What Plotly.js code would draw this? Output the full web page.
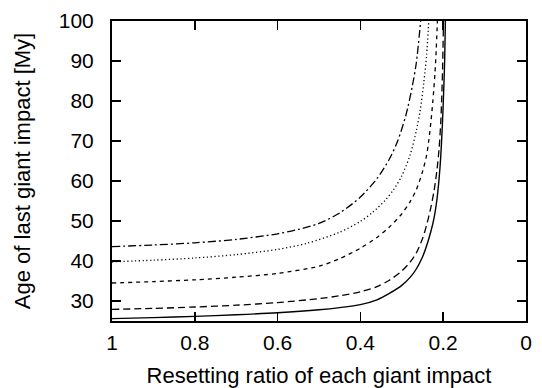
<!DOCTYPE html>
<html>
<head>
<meta charset="utf-8">
<script src="https://cdn.plot.ly/plotly-3.0.1.min.js"></script>
<style>html,body{margin:0;padding:0;background:#fff;}#chart{width:542px;height:388px;}</style>
</head>
<body>
<div id="chart"></div>
<script>
// Resetting ratio (x) and age of last giant impact [My] (y) for five curves
const solidX     = [1.0, 0.9, 0.8, 0.7, 0.6, 0.5, 0.45, 0.4, 0.36, 0.33, 0.3, 0.28, 0.265, 0.25, 0.24, 0.23, 0.222, 0.215, 0.21, 0.206, 0.202, 0.199, 0.1965, 0.1947];
const solidY     = [25.6, 25.85, 26.15, 26.55, 27.05, 27.8, 28.35, 29.1, 30.3, 31.9, 33.9, 35.9, 38.0, 41.0, 43.8, 47.3, 50.8, 55.5, 60.5, 66.0, 74.0, 82.0, 90.0, 100];

const longDashX  = [1.0, 0.9, 0.8, 0.7, 0.6, 0.5, 0.45, 0.4, 0.36, 0.33, 0.3, 0.28, 0.265, 0.25, 0.24, 0.23, 0.222, 0.215, 0.21, 0.206, 0.2035, 0.2015, 0.1993];
const longDashY  = [27.9, 28.15, 28.5, 28.95, 29.6, 30.6, 31.3, 32.3, 33.6, 35.2, 37.5, 39.7, 42.0, 45.6, 49.0, 53.3, 57.6, 62.8, 68.0, 74.5, 81.0, 88.0, 100];

const shortDashX = [1.0, 0.9, 0.8, 0.7, 0.6, 0.5, 0.45, 0.4, 0.36, 0.33, 0.3, 0.28, 0.265, 0.25, 0.24, 0.235, 0.23, 0.225, 0.22, 0.217, 0.214];
const shortDashY = [34.5, 34.85, 35.3, 35.95, 36.9, 38.7, 40.6, 43.2, 45.9, 48.5, 51.8, 54.8, 57.8, 62.3, 66.5, 70.0, 74.5, 80.0, 86.8, 92.5, 100];

const dottedX    = [1.0, 0.9, 0.8, 0.7, 0.6, 0.53, 0.45, 0.4, 0.37, 0.34, 0.32, 0.3, 0.28, 0.265, 0.255, 0.247, 0.24, 0.235];
const dottedY    = [39.8, 40.2, 40.75, 41.6, 42.9, 44.4, 47.2, 49.9, 52.2, 55.2, 57.8, 61.3, 66.5, 72.5, 78.0, 84.5, 91.5, 100];

const dashDotX   = [1.0, 0.9, 0.8, 0.7, 0.6, 0.55, 0.5, 0.45, 0.4, 0.36, 0.33, 0.31, 0.29, 0.275, 0.265, 0.2545];
const dashDotY   = [43.6, 44.0, 44.55, 45.4, 46.8, 47.9, 49.4, 52.0, 56.0, 60.6, 65.5, 70.0, 76.5, 83.5, 89.5, 100];

const xTicks = [1, 0.8, 0.6, 0.4, 0.2, 0];
const xTickLabels = ['1', '0.8', '0.6', '0.4', '0.2', '0'];
const yTicks = [30, 40, 50, 60, 70, 80, 90, 100];

function curve(x, y, dash, w) {
  return {x: x, y: y, type: 'scatter', mode: 'lines',
          line: {color: '#000', width: w, dash: dash, shape: 'spline', smoothing: 0.8},
          hoverinfo: 'skip', showlegend: false, cliponaxis: true};
}

const data = [
  curve(solidX, solidY, 'solid', 1.4),
  curve(longDashX, longDashY, '7px,4px', 1.3),
  curve(shortDashX, shortDashY, '4px,4px', 1.3),
  curve(dottedX, dottedY, '1.2px,2.6px', 1.3),
  curve(dashDotX, dashDotY, '8px,3px,2px,3px', 1.3)
];

const tickFont = {family: 'Liberation Sans, Arial, sans-serif', size: 21, color: '#000'};
const titleFont = {family: 'Liberation Sans, Arial, sans-serif', size: 22, color: '#000'};

const layout = {
  width: 542, height: 388,
  margin: {l: 112, r: 16, t: 21, b: 67, pad: 0},
  paper_bgcolor: '#fff', plot_bgcolor: '#fff',
  showlegend: false,
  xaxis: {
    range: [1, 0], tickvals: xTicks, ticktext: xTickLabels,
    ticks: 'inside', ticklen: 9, tickwidth: 1.5, tickcolor: '#000',
    showline: true, linecolor: '#000', linewidth: 2, mirror: 'ticks',
    showgrid: false, zeroline: false, tickfont: tickFont,
    ticklabelstandoff: 2,
    title: {text: 'Resetting ratio of each giant impact', font: titleFont, standoff: 26}
  },
  yaxis: {
    range: [25, 100], tickvals: yTicks,
    ticks: 'inside', ticklen: 9, tickwidth: 1.5, tickcolor: '#000',
    showline: true, linecolor: '#000', linewidth: 2, mirror: 'ticks',
    showgrid: false, zeroline: false, tickfont: tickFont,
    ticklabelstandoff: 12,
    title: {text: 'Age of last giant impact [My]', font: titleFont, standoff: 22}
  }
};

Plotly.newPlot('chart', data, layout, {staticPlot: true, displayModeBar: false});
</script>
</body>
</html>
